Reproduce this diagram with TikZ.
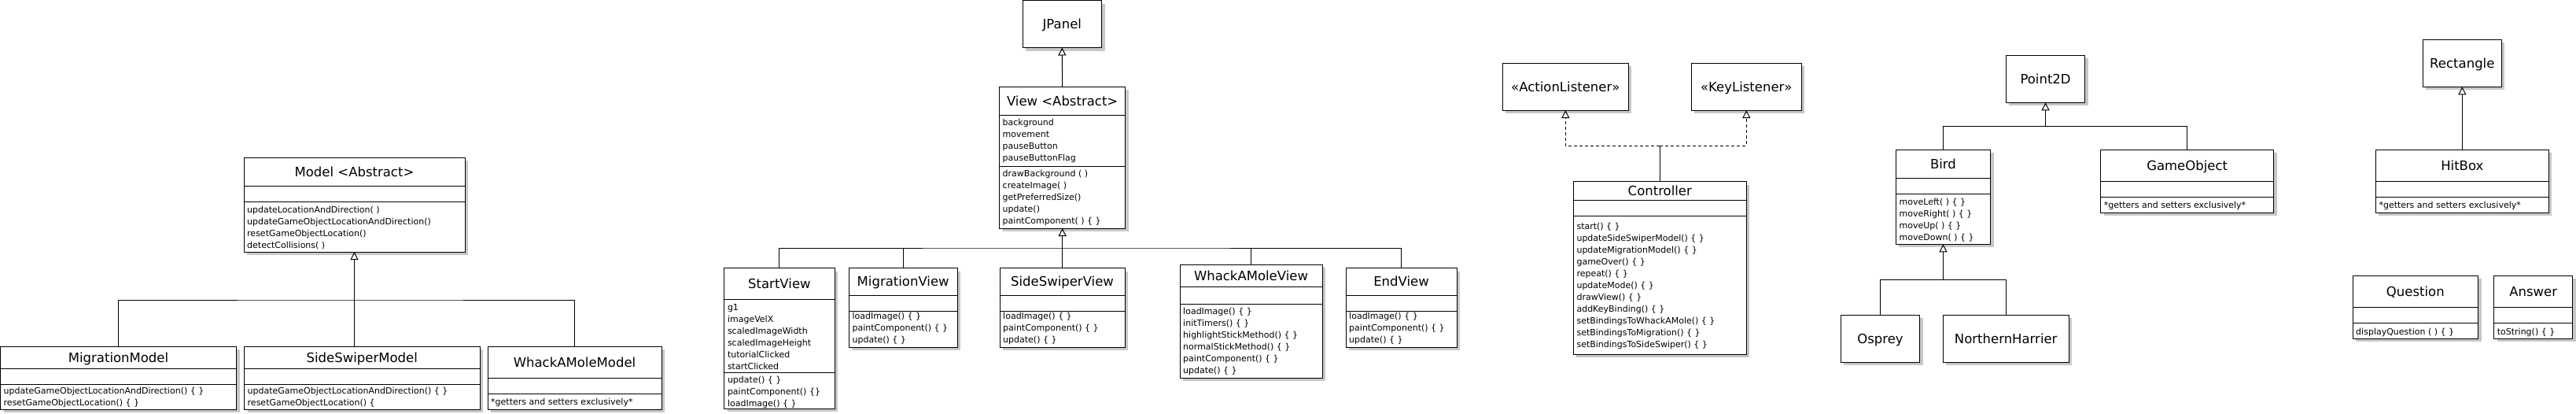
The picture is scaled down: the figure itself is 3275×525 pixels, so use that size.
\documentclass[tikz,border=0pt]{standalone}
\usepackage{fontspec}
\setmainfont{DejaVu Sans}
\usetikzlibrary{arrows.meta,calc,shadows}
\newcommand{\titlefont}{\fontsize{16.5}{20}\selectfont}
\newcommand{\memberfont}{\fontsize{11}{15}\selectfont}
\tikzset{
  classbox/.style={draw, fill=white, line width=1pt, anchor=north west, inner sep=0pt, outer sep=0pt,
    drop shadow={shadow xshift=4pt, shadow yshift=-4pt, fill=black!22, opacity=1}},
  plainbox/.style={classbox, font=\titlefont, text height=12pt, text depth=0pt},
  classtitle/.style={font=\titlefont, inner sep=0pt, anchor=base},
  memberlist/.style={font=\memberfont, inner sep=0pt, anchor=north west, align=left},
  link/.style={line width=1pt},
  extends/.style={link, -{Triangle[open,length=10pt,width=10pt]}},
  implements/.style={extends, dash pattern=on 4pt off 3pt}
}
% box with title, attribute and method compartments
\newcommand{\umlclass}[7]{%
  \node[classbox, minimum width=#3pt, minimum height=#4pt] (#1) at (#2) {};
  \node[classtitle] at ($(#1.north)+(0,#5/2+6)$) {#7};
  \draw[link] ($(#1.north west)+(0,#5)$) -- ($(#1.north east)+(0,#5)$);
  \draw[link] ($(#1.north west)+(0,#5+#6)$) -- ($(#1.north east)+(0,#5+#6)$);
}
% list of members, first baseline #2 below the top of the box
\newcommand{\members}[3]{%
  \node[memberlist] at ($(#1.north west)+(4,#2-10.5)$) {\strut #3};
}
\begin{document}
\begin{tikzpicture}[x=1pt, y=-1pt]
    \useasboundingbox (0,0) rectangle (3275,525);
    \fill[white] (0,0) rectangle (3275,525);
    % model classes
    \umlclass{model}{310,200}{281}{120}{36}{20}{Model <Abstract>}
    \members{model}{70}{updateLocationAndDirection( )\\updateGameObjectLocationAndDirection()\\resetGameObjectLocation()\\detectCollisions( )}
    \umlclass{migmodel}{0.5,440}{300}{80}{28}{20}{MigrationModel}
    \members{migmodel}{60}{updateGameObjectLocationAndDirection() \{ \}\\resetGameObjectLocation() \{ \}}
    \umlclass{swmodel}{310.5,440}{299.5}{80}{28}{20}{SideSwiperModel}
    \members{swmodel}{60}{updateGameObjectLocationAndDirection() \{ \}\\resetGameObjectLocation() \{}
    \umlclass{wammodel}{620,440}{221}{80}{40}{20}{WhackAMoleModel}
    \members{wammodel}{74}{*getters and setters exclusively*}
    \coordinate (modeljoin) at ($(model.south)+(0,61)$);
    \draw[extends] (swmodel.north -| model.south) -- (model.south);
    \draw[link] (migmodel.north) |- (modeljoin) -| (wammodel.north);
    % view classes
    \node[plainbox, minimum width=100.6pt, minimum height=60pt] (jpanel) at (1300,0.5) {JPanel};
    \umlclass{view}{1270.5,110.3}{160.3}{179.7}{36}{64.7}{View <Abstract>}
    \members{view}{49.4}{background\\movement\\pauseButton\\pauseButtonFlag}
    \members{view}{114.4}{drawBackground ( )\\createImage( )\\getPreferredSize()\\update()\\paintComponent( ) \{ \}}
    \draw[extends] (view.north) -- (jpanel.south);
    \umlclass{startview}{920.8,340.7}{140.2}{178.3}{39.3}{93}{StartView}
    \members{startview}{53.3}{g1\\imageVelX\\scaledImageWidth\\scaledImageHeight\\tutorialClicked\\startClicked}
    \members{startview}{145.3}{update() \{ \}\\paintComponent() \{\}\\loadImage() \{ \}}
    \umlclass{migview}{1079.4,340.7}{137.6}{100.3}{34.3}{20}{MigrationView}
    \members{migview}{65}{loadImage() \{ \}\\paintComponent() \{ \}\\update() \{ \}}
    \umlclass{ssview}{1271,340.7}{159}{100.3}{34.3}{20}{SideSwiperView}
    \members{ssview}{65}{loadImage() \{ \}\\paintComponent() \{ \}\\update() \{ \}}
    \umlclass{wamview}{1500,336}{181}{144}{28}{22}{WhackAMoleView}
    \members{wamview}{63}{loadImage() \{ \}\\initTimers() \{ \}\\highlightStickMethod() \{ \}\\normalStickMethod() \{ \}\\paintComponent() \{ \}\\update() \{ \}}
    \umlclass{endview}{1711,340.7}{141}{100.3}{34.3}{20}{EndView}
    \members{endview}{65}{loadImage() \{ \}\\paintComponent() \{ \}\\update() \{ \}}
    \coordinate (viewjoin) at ($(view.south)+(0,25)$);
    \draw[extends] (ssview.north -| view.south) -- (view.south);
    \draw[link] (startview.north) |- (viewjoin) -| (endview.north);
    \draw[link] (migview.north) -- (migview.north |- viewjoin);
    \draw[link] (wamview.north) -- (wamview.north |- viewjoin);
    % controller
    \node[plainbox, minimum width=160pt, minimum height=59.7pt] (actionl) at (1910.3,80.3) {«ActionListener»};
    \node[plainbox, minimum width=140pt, minimum height=59.7pt] (keyl) at (2150.3,80.3) {«KeyListener»};
    \umlclass{ctrl}{2000.3,230.7}{220}{219.3}{23.6}{20}{Controller}
    \members{ctrl}{60.3}{start() \{ \}\\updateSideSwiperModel() \{ \}\\updateMigrationModel() \{ \}\\gameOver() \{ \}\\repeat() \{ \}\\updateMode() \{ \}\\drawView() \{ \}\\addKeyBinding() \{ \}\\setBindingsToWhackAMole() \{ \}\\setBindingsToMigration() \{ \}\\setBindingsToSideSwiper() \{ \}}
    \coordinate (ctrljoin) at ($(ctrl.north)+(0,-45.4)$);
    \draw[link] (ctrl.north) -- (ctrljoin);
    \draw[implements] (ctrljoin) -| (actionl.south);
    \draw[implements] (ctrljoin) -| (keyl.south);
    % game objects
    \node[plainbox, minimum width=100.3pt, minimum height=60pt] (point) at (2550.4,70.3) {Point2D};
    \umlclass{bird}{2410.4,190.3}{120.1}{120}{36}{20}{Bird}
    \members{bird}{69.7}{moveLeft( ) \{ \}\\moveRight( ) \{ \}\\moveUp( ) \{ \}\\moveDown( ) \{ \}}
    \umlclass{gameobj}{2670.6,190.3}{220.1}{79.7}{40.4}{20}{GameObject}
    \members{gameobj}{73.7}{*getters and setters exclusively*}
    \coordinate (pointjoin) at ($(point.south)+(0,30)$);
    \draw[extends] (pointjoin) -- (point.south);
    \draw[link] (bird.north) |- (pointjoin) -| (gameobj.north);
    \node[plainbox, minimum width=100.1pt, minimum height=60pt] (osprey) at (2340.4,400.3) {Osprey};
    \node[plainbox, minimum width=159.6pt, minimum height=60pt] (harrier) at (2470.4,400.3) {NorthernHarrier};
    \coordinate (birdjoin) at ($(bird.south)+(0,45)$);
    \draw[extends] (birdjoin) -- (bird.south);
    \draw[link] (osprey.north) |- (birdjoin) -| (harrier.north);
    \node[plainbox, minimum width=100pt, minimum height=60pt] (rect) at (3080.3,50.3) {Rectangle};
    \umlclass{hitbox}{3020.3,190.3}{220}{80}{40}{20}{HitBox}
    \members{hitbox}{74}{*getters and setters exclusively*}
    \draw[extends] (hitbox.north) -- (rect.south);
    % quiz
    \umlclass{question}{2991,350.3}{159.7}{80}{40}{20}{Question}
    \members{question}{74.7}{displayQuestion ( ) \{ \}}
    \umlclass{answer}{3170.6,350.3}{100.2}{80}{40}{20}{Answer}
    \members{answer}{74.7}{toString() \{ \}}
\end{tikzpicture}
\end{document}
